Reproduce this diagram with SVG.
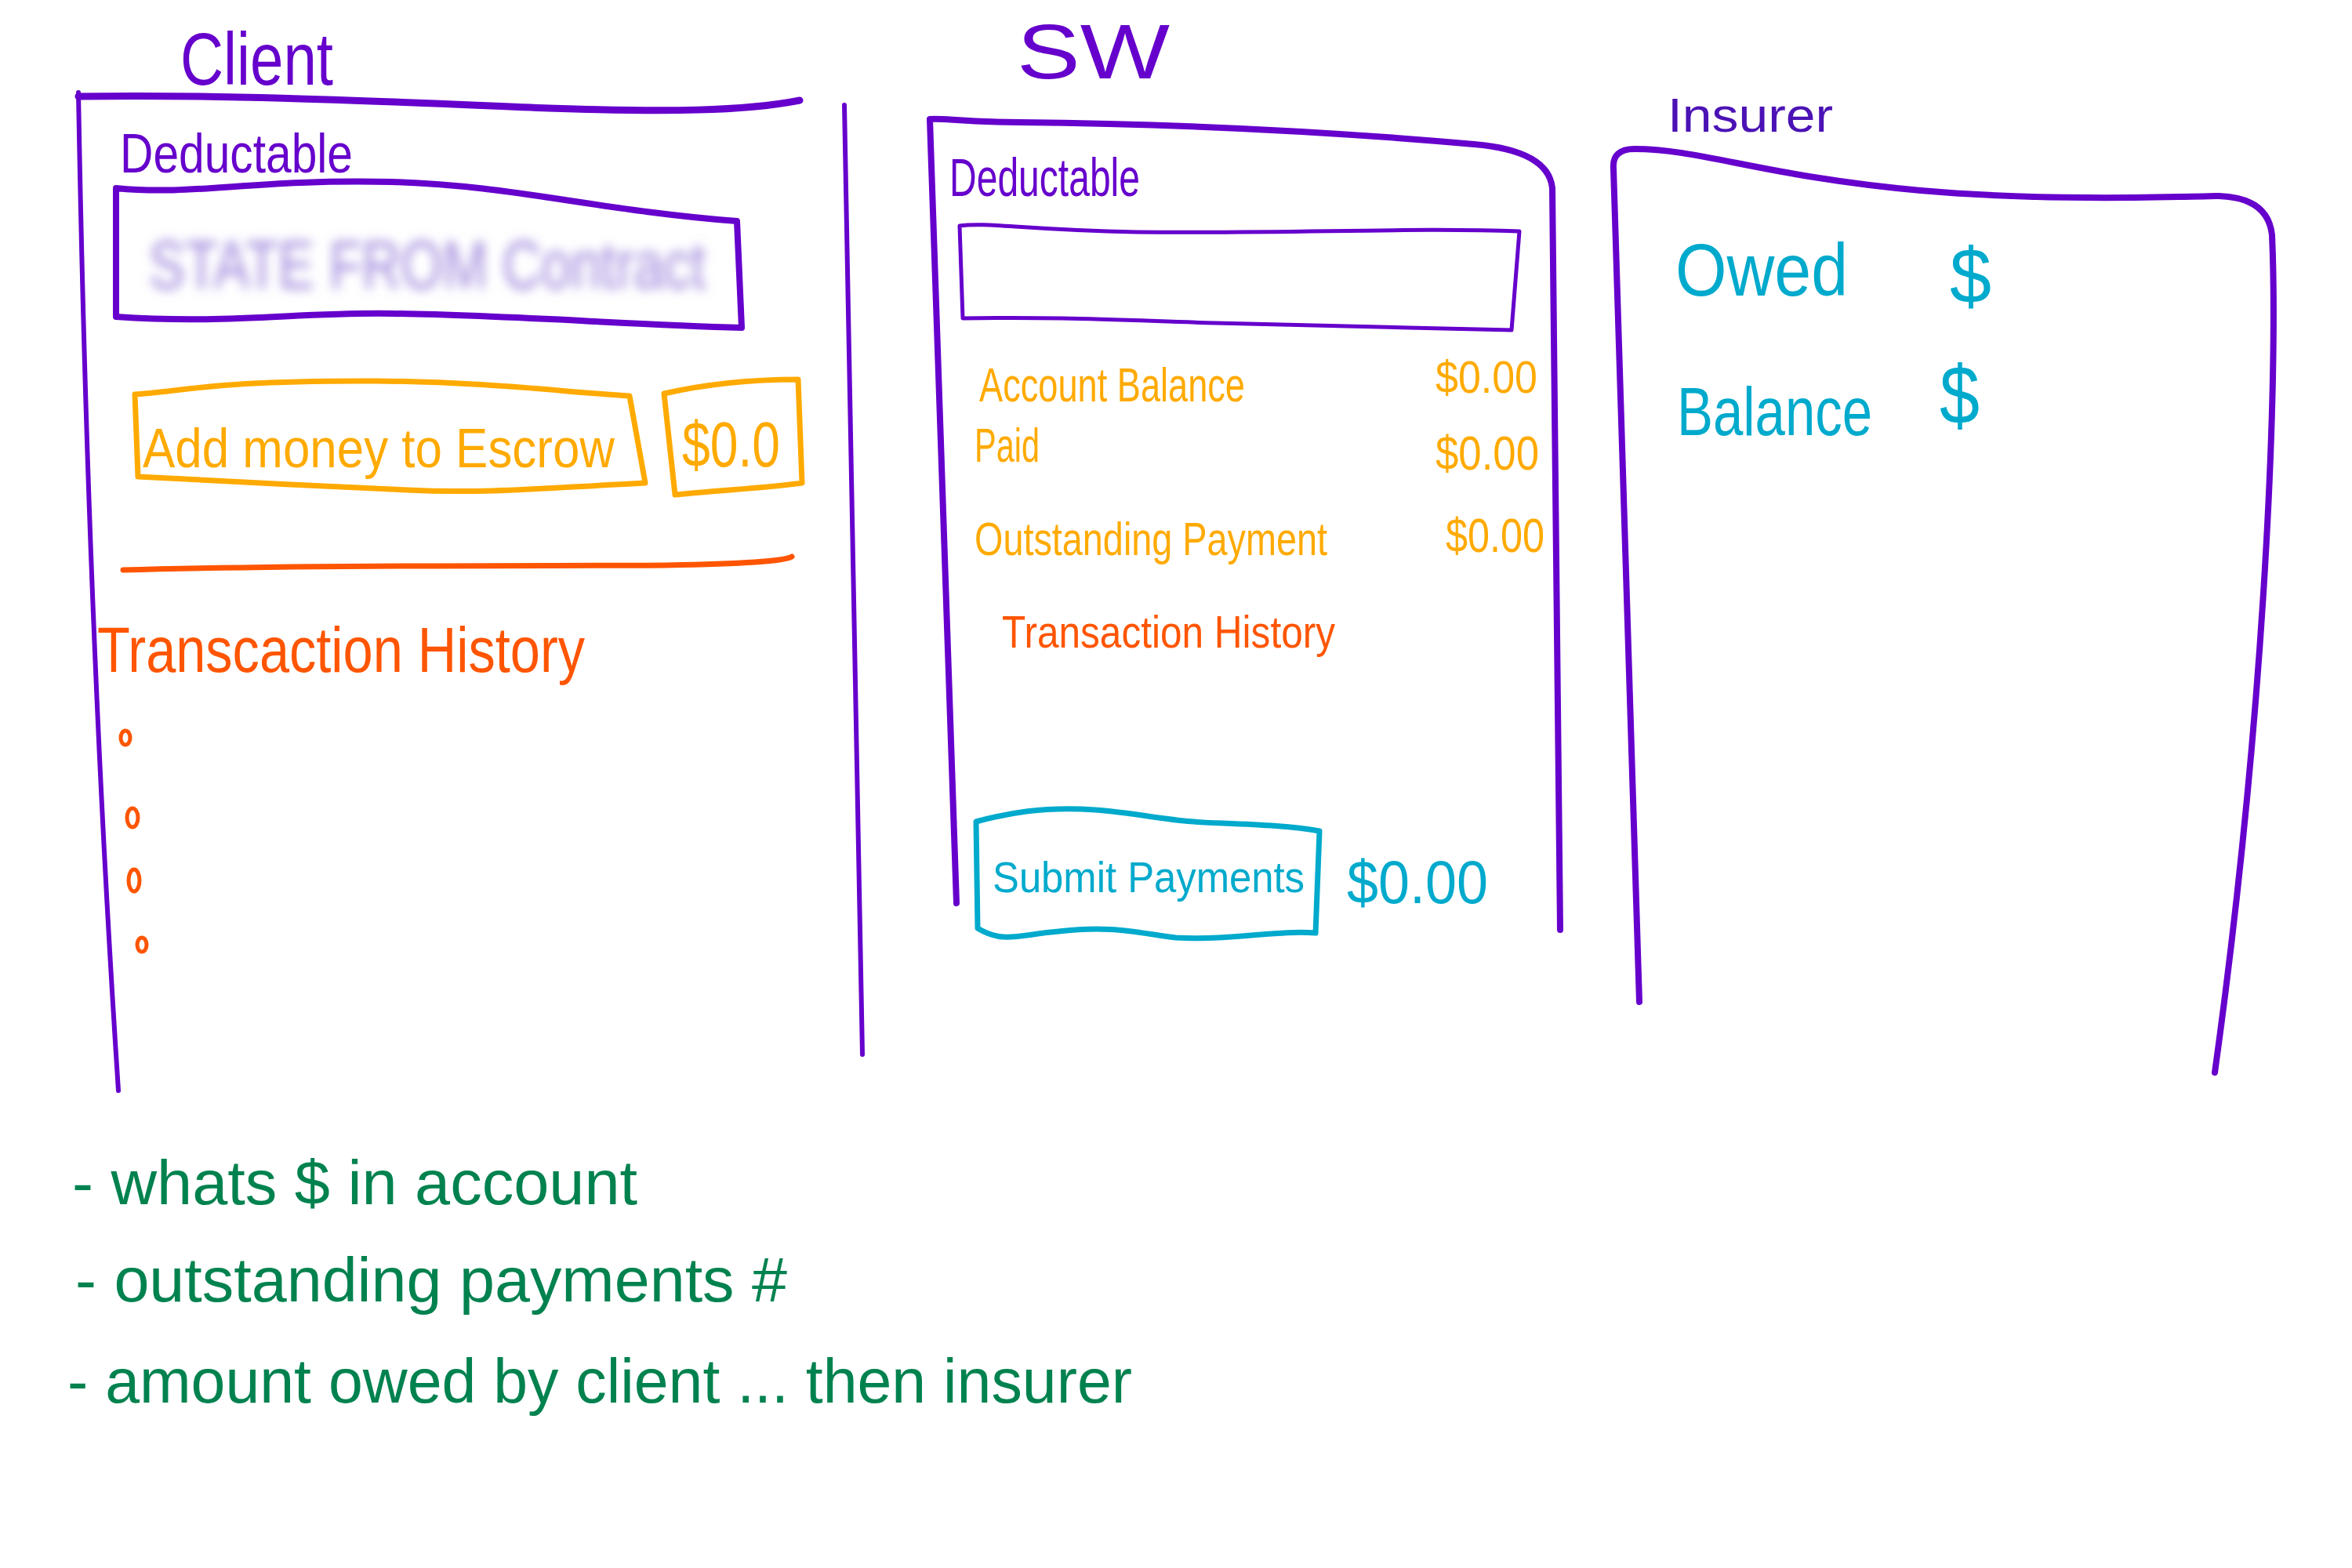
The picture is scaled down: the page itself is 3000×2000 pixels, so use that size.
<svg xmlns="http://www.w3.org/2000/svg" width="3000" height="2000" viewBox="0 0 3000 2000">
<style>
text{font-family:"Liberation Sans","DejaVu Sans",sans-serif}
.pu{fill:none;stroke:#6600cc;stroke-linecap:round;stroke-linejoin:round}
.or{fill:none;stroke:#ffaa00;stroke-width:7;stroke-linecap:round;stroke-linejoin:round}
.rd{fill:none;stroke:#ff5500;stroke-linecap:round;stroke-linejoin:round}
.cy{fill:none;stroke:#00aacc;stroke-width:7;stroke-linecap:round;stroke-linejoin:round}
.tpu{fill:#6600cc}
.tor{fill:#ffaa00}
.trd{fill:#ff5500}
.tcy{fill:#00aacc}
.tgr{fill:#00824f}
</style>
<defs>
<filter id="blur" x="-10%" y="-50%" width="120%" height="200%"><feGaussianBlur stdDeviation="7"/></filter>
</defs>
<rect width="3000" height="2000" fill="#ffffff"/>

<g id="client">
<text class="tpu" x="230" y="108" font-size="95" textLength="195" lengthAdjust="spacingAndGlyphs">Client</text>
<path class="pu" stroke-width="9" d="M100,123 C300,120 500,130 700,138 C850,143 950,142 1020,128"/>
<path class="pu" stroke-width="6" d="M100,118 Q112,800 151,1391"/>
<path class="pu" stroke-width="6" d="M1077,134 Q1086,700 1100,1345"/>
<text class="tpu" x="153" y="220" font-size="70" textLength="297" lengthAdjust="spacingAndGlyphs">Deductable</text>
<g id="client-deductible-box">
<path class="pu" stroke-width="8" d="M148,240 C250,250 320,228 500,232 C650,236 760,268 940,282 L946,418 C800,414 650,402 500,400 C380,398 290,414 148,404 Z"/>
<text x="190" y="368" font-size="88" fill="#9f86dc" filter="url(#blur)" textLength="710" lengthAdjust="spacingAndGlyphs">STATE FROM Contract</text>
</g>
<g id="add-money">
<path class="or" d="M172,503 C240,498 280,485 480,486 C620,487 720,500 803,505 L823,616 C700,622 620,630 520,625 C400,620 300,614 176,608 Z"/>
<text class="tor" x="182" y="596" font-size="70" textLength="602" lengthAdjust="spacingAndGlyphs">Add money to Escrow</text>
</g>
<g id="escrow-amount">
<path class="or" d="M847,502 C900,490 960,484 1018,484 L1023,616 C980,622 920,625 861,631 Z"/>
<text class="tor" x="870" y="595" font-size="82" textLength="125" lengthAdjust="spacingAndGlyphs">$0.0</text>
</g>
<path class="rd" stroke-width="7" d="M157,727 C400,720 700,722 850,721 C950,719 1000,716 1010,710"/>
<g id="client-history">
<text class="trd" x="124" y="857" font-size="82" textLength="622" lengthAdjust="spacingAndGlyphs">Transcaction History</text>
<ellipse class="rd" stroke-width="5" cx="160" cy="941" rx="6" ry="9"/>
<ellipse class="rd" stroke-width="5" cx="169" cy="1043" rx="7" ry="12"/>
<ellipse class="rd" stroke-width="5" cx="171" cy="1123" rx="7" ry="14"/>
<ellipse class="rd" stroke-width="5" cx="181" cy="1205" rx="6" ry="9"/>
</g>
</g>

<g id="sw">
<text class="tpu" x="1297" y="100" font-size="98" textLength="195" lengthAdjust="spacingAndGlyphs">SW</text>
<path class="pu" stroke-width="8" d="M1220,1152 L1186,152 C1200,150 1230,156 1300,156 C1500,158 1700,168 1880,184 Q1975,192 1980,240 L1990,1186"/>
<text class="tpu" x="1211" y="250" font-size="68" textLength="243" lengthAdjust="spacingAndGlyphs">Deductable</text>
<g id="sw-deductible-box">
<path class="pu" stroke-width="5" d="M1228,406 L1224,288 C1260,283 1300,293 1450,296 C1650,298 1800,290 1938,295 L1928,421 C1800,418 1700,416 1550,412 C1420,408 1350,404 1228,406 Z"/>
</g>
<g id="sw-balances">
<text class="tor" x="1249" y="512" font-size="62" textLength="339" lengthAdjust="spacingAndGlyphs">Account Balance</text>
<text class="tor" x="1831" y="501" font-size="58" textLength="130" lengthAdjust="spacingAndGlyphs">$0.00</text>
<text class="tor" x="1243" y="589" font-size="62" textLength="83" lengthAdjust="spacingAndGlyphs">Paid</text>
<text class="tor" x="1831" y="599" font-size="62" textLength="132" lengthAdjust="spacingAndGlyphs">$0.00</text>
<text class="tor" x="1243" y="708" font-size="60" textLength="450" lengthAdjust="spacingAndGlyphs">Outstanding Payment</text>
<text class="tor" x="1844" y="704" font-size="62" textLength="126" lengthAdjust="spacingAndGlyphs">$0.00</text>
</g>
<text class="trd" x="1278" y="826" font-size="58" textLength="425" lengthAdjust="spacingAndGlyphs">Transaction History</text>
<g id="submit-payments">
<path class="cy" d="M1245,1048 C1290,1036 1330,1030 1380,1032 C1450,1035 1480,1048 1560,1050 C1610,1052 1650,1054 1683,1060 L1678,1190 C1630,1186 1570,1200 1500,1196 C1450,1190 1420,1180 1350,1188 C1300,1192 1280,1204 1247,1184 Z"/>
<text class="tcy" x="1266" y="1138" font-size="56" textLength="398" lengthAdjust="spacingAndGlyphs">Submit Payments</text>
</g>
<text class="tcy" x="1718" y="1152" font-size="78" textLength="180" lengthAdjust="spacingAndGlyphs">$0.00</text>
</g>

<g id="insurer">
<text x="2127" y="168" font-size="62" fill="#4b12b5" textLength="211" lengthAdjust="spacingAndGlyphs">Insurer</text>
<path class="pu" stroke-width="8" d="M2091,1278 L2058,215 Q2056,190 2085,190 C2170,190 2250,225 2450,243 C2600,256 2750,252 2830,250 Q2893,252 2898,300 C2906,480 2890,900 2825,1368"/>
<text class="tcy" x="2137" y="377" font-size="95" textLength="220" lengthAdjust="spacingAndGlyphs">Owed</text>
<text class="tcy" x="2487" y="386" font-size="100" textLength="53" lengthAdjust="spacingAndGlyphs">$</text>
<text class="tcy" x="2139" y="555" font-size="88" textLength="249" lengthAdjust="spacingAndGlyphs">Balance</text>
<text class="tcy" x="2474" y="541" font-size="105" textLength="51" lengthAdjust="spacingAndGlyphs">$</text>
</g>

<g id="notes">
<text class="tgr" x="92" y="1536" font-size="80" textLength="721" lengthAdjust="spacingAndGlyphs">- whats $ in account</text>
<text class="tgr" x="96" y="1660" font-size="80" textLength="908" lengthAdjust="spacingAndGlyphs">- outstanding payments #</text>
<text class="tgr" x="86" y="1789" font-size="80" textLength="1358" lengthAdjust="spacingAndGlyphs">- amount owed by client ... then insurer</text>
</g>

<g id="connectors"/>
</svg>
